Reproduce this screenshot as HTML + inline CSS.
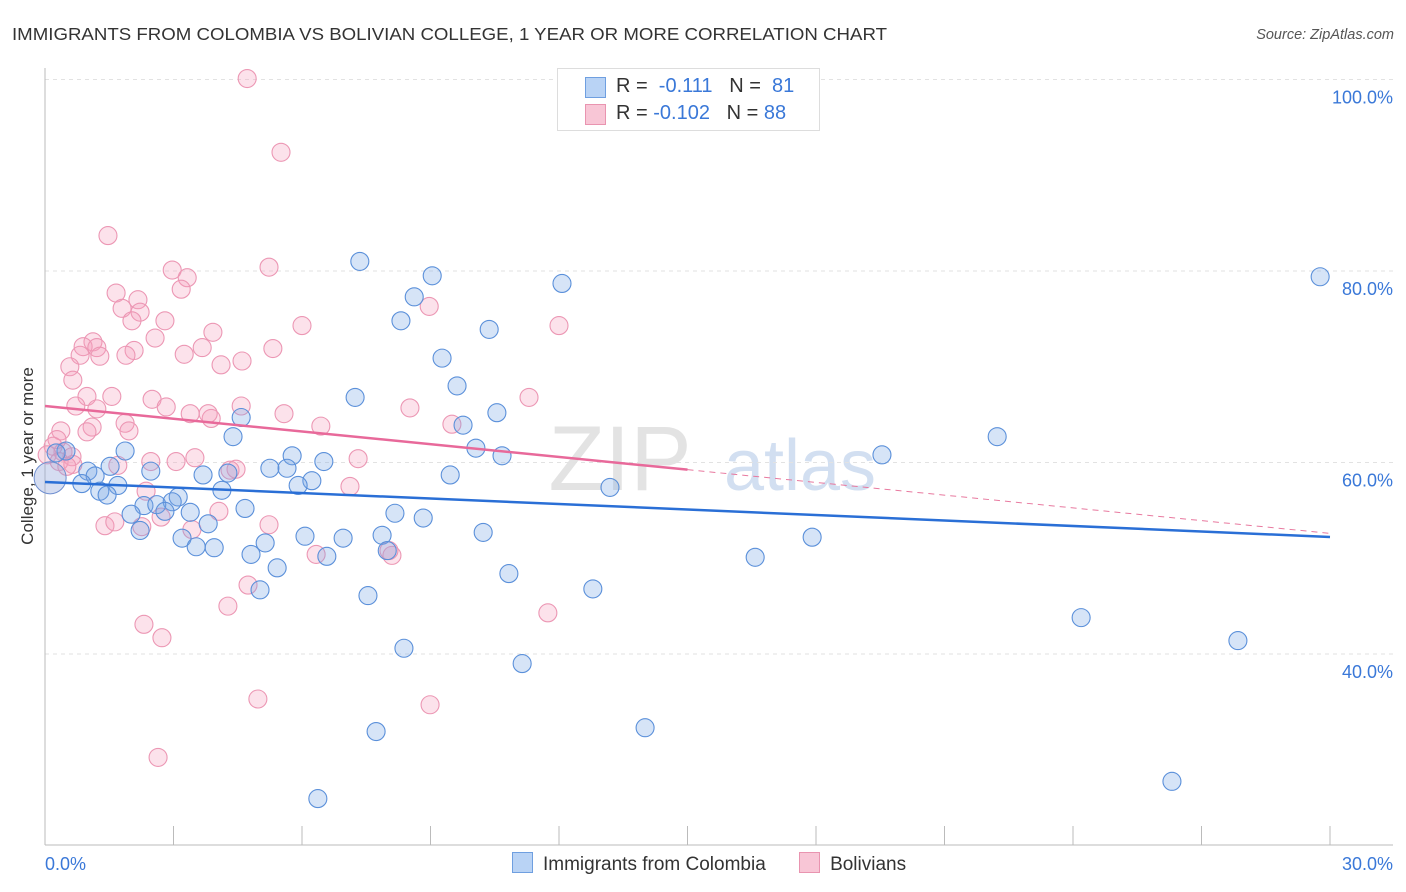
<!DOCTYPE html>
<html><head><meta charset="utf-8"><style>
body{margin:0;background:#fff;font-family:"Liberation Sans",sans-serif;}
#wrap{position:relative;width:1406px;height:892px;overflow:hidden;}
svg text{font-family:"Liberation Sans",sans-serif;}
</style></head><body>
<div id="wrap">
<svg id="chart" width="1406" height="892">
<text x="12" y="40" font-size="17.5" fill="#333" textLength="875" lengthAdjust="spacingAndGlyphs">IMMIGRANTS FROM COLOMBIA VS BOLIVIAN COLLEGE, 1 YEAR OR MORE CORRELATION CHART</text>
<text x="1394" y="39" font-size="14.5" fill="#555" font-style="italic" text-anchor="end">Source: ZipAtlas.com</text>
<text x="620" y="490" font-size="92" fill="#e3e3e3" font-family="Liberation Serif" text-anchor="middle">ZIP</text>
<text x="800" y="490" font-size="72" fill="#d2dff1" text-anchor="middle">atlas</text>
<text transform="translate(33,456) rotate(-90)" font-size="17" fill="#333" text-anchor="middle">College, 1 year or more</text>
<g id="grid"></g><g id="marks"></g>
</svg>
<div style="position:absolute;left:557px;top:68px;width:261px;height:61px;border:1px solid #ddd;background:#fff;font-size:20px;color:#333;">
 <div style="position:absolute;left:27px;top:8px;width:19px;height:19px;background:#b9d3f5;border:1px solid #6f9fe0;"></div>
 <div style="position:absolute;left:58px;top:6px;">R = &nbsp;<span style="color:#3a78d8">-0.111</span>&nbsp;&nbsp;&nbsp;N = &nbsp;<span style="color:#3a78d8">81</span></div>
 <div style="position:absolute;left:27px;top:35px;width:19px;height:19px;background:#f8c6d6;border:1px solid #e994b0;"></div>
 <div style="position:absolute;left:58px;top:33px;">R = <span style="color:#3a78d8">-0.102</span>&nbsp;&nbsp;&nbsp;N = <span style="color:#3a78d8">88</span></div>
</div>
<div style="position:absolute;left:512px;top:852px;font-size:19px;color:#333;white-space:nowrap;">
 <span><span style="display:inline-block;width:19px;height:19px;background:#b9d3f5;border:1px solid #6f9fe0;vertical-align:-3px;margin-right:10px;"></span>Immigrants from Colombia</span>
 <span style="margin-left:28px;"><span style="display:inline-block;width:19px;height:19px;background:#f8c6d6;border:1px solid #e994b0;vertical-align:-3px;margin-right:10px;"></span>Bolivians</span>
</div>
</div>
<script>
const blueX=[29.77,7.35,9.04,12.07,8.62,8.31,10.37,9.27,9.62,7.24,10.55,4.58,9.76,4.39,1.87,10.06,10.67,22.23,19.54,5.77,6.51,5.65,5.25,2.47,1.00,0.49,0.26,1.52,1.17,0.86,1.70,1.28,1.45,9.46,4.27,3.69,6.23,5.91,4.13,3.11,2.97,2.31,2.61,2.01,3.39,4.67,2.80,13.19,8.17,8.83,3.81,3.20,2.22,3.53,3.95,5.14,4.81,6.07,6.96,7.87,7.99,6.58,10.23,17.91,16.58,5.42,5.02,10.83,12.79,7.54,8.38,11.14,24.19,27.85,14.01,7.73,26.31,6.37];
const blueY=[79.4,81.0,79.5,78.7,77.3,74.8,73.9,70.9,68.0,66.8,65.2,64.7,63.9,62.7,61.2,61.5,60.7,62.7,60.8,60.7,60.1,59.4,59.4,59.1,59.1,61.2,61.0,59.6,58.6,57.8,57.6,57.0,56.6,58.7,58.9,58.7,58.1,57.6,57.1,56.4,55.9,55.5,55.6,54.6,54.8,55.2,54.9,57.4,54.7,54.2,53.6,52.1,52.9,51.2,51.1,51.6,50.4,52.3,52.1,52.4,50.8,50.2,52.7,52.2,50.1,49.0,46.7,48.4,46.8,46.1,40.6,39.0,43.8,41.4,32.3,31.9,26.7,24.9];
const pinkX=[4.72,5.51,1.47,2.97,3.32,5.23,3.18,1.66,2.17,1.80,2.22,2.03,2.80,8.97,6.00,12.00,3.92,2.57,1.12,0.89,1.21,2.08,3.67,1.89,1.28,0.82,5.32,3.25,4.60,4.11,0.58,0.65,1.56,2.50,0.98,11.30,8.52,0.72,2.83,1.21,5.58,3.39,3.88,3.81,4.58,1.87,1.10,6.44,9.50,0.37,0.98,1.96,0.28,0.19,0.42,0.63,0.05,3.50,3.06,2.47,1.70,0.33,4.46,4.32,7.31,0.65,7.12,2.36,2.71,4.06,1.40,1.63,3.43,2.26,5.23,6.33,8.10,4.74,4.27,11.74,2.31,2.73,4.97,8.99,2.64,8.03,0.51];
const pinkY=[100.1,92.4,83.7,80.1,79.3,80.4,78.1,77.7,77.0,76.1,75.7,74.8,74.8,76.3,74.3,74.3,73.6,73.0,72.6,72.1,72.0,71.7,72.0,71.2,71.1,71.2,71.9,71.3,70.6,70.2,70.0,68.6,66.9,66.6,66.9,66.8,65.7,65.9,65.8,65.6,65.1,65.1,64.6,65.1,65.9,64.1,63.7,63.8,64.0,63.3,63.2,63.3,62.4,61.7,61.1,60.6,60.8,60.5,60.1,60.1,59.7,60.1,59.3,59.2,60.4,59.8,57.5,57.0,54.3,54.9,53.4,53.8,53.0,53.3,53.5,50.4,50.3,47.2,45.0,44.3,43.1,41.7,35.3,34.7,29.2,50.8,59.6];
const yTicks=[40,60,80,100];
const yTickLabels=["40.0%","60.0%","80.0%","100.0%"];
const xTicks=[0,3,6,9,12,15,18,21,24,27,30];
const blueTrend=[57.96,52.22];
const pinkTrend=[65.9,52.6];
const pinkSolidEnd=15.0;

const NS="http://www.w3.org/2000/svg";
const sx=v=>45+v*1285/30;
const sy=v=>1037-v*9.575;
const grid=document.getElementById('grid'),marks=document.getElementById('marks');
function mk(tag,at,parent){const e=document.createElementNS(NS,tag);for(const k in at)e.setAttribute(k,at[k]);parent.appendChild(e);return e;}
yTicks.forEach((t,i)=>{
 const l=mk('line',{x1:45,x2:1393,y1:sy(t),y2:sy(t),stroke:'#e2e2e2','stroke-dasharray':'4,4'},grid);
 
 
 const tx=mk('text',{x:1393,y:sy(t)+24,'font-size':18,fill:'#3a78d8','text-anchor':'end'},grid);
 tx.textContent=yTickLabels[i];
 
 
});
const ax=mk('line',{x1:45,x2:45,y1:68,y2:845,stroke:'#bbb'},grid);


const bx=mk('line',{x1:45,x2:1393,y1:845,y2:845,stroke:'#bbb'},grid);


xTicks.forEach(t=>{
 const l=mk('line',{x1:sx(t),x2:sx(t),y1:826,y2:845,stroke:'#bbb'},grid);
 
 
});
const xl0=mk('text',{x:45,y:870,'font-size':18,fill:'#3a78d8'},grid);xl0.textContent=xTicks[0].toFixed(1)+'%';


const xl1=mk('text',{x:1393,y:870,'font-size':18,fill:'#3a78d8','text-anchor':'end'},grid);xl1.textContent=xTicks[xTicks.length-1].toFixed(1)+'%';



pinkX.forEach((x,i)=>{
 const c=mk('circle',{cx:sx(x),cy:sy(pinkY[i]),r:9,fill:'rgba(244,160,190,0.3)',stroke:'#ec97b4','stroke-width':1.1},marks);
 
 
});
blueX.forEach((x,i)=>{
 const c=mk('circle',{cx:sx(x),cy:sy(blueY[i]),r:9,fill:'rgba(120,165,230,0.3)',stroke:'#5b90da','stroke-width':1.1},marks);
 
 
});
const big=mk('circle',{cx:sx(0.12),cy:sy(58.4),r:16,fill:'rgba(150,170,220,0.4)',stroke:'#6f8fd0'},marks);


const pAt=x=>pinkTrend[0]+(pinkTrend[1]-pinkTrend[0])*x/30;
const pd=mk('line',{x1:sx(pinkSolidEnd),y1:sy(pAt(pinkSolidEnd)),x2:sx(30),y2:sy(pinkTrend[1]),stroke:'#e8799f','stroke-width':1,'stroke-dasharray':'6,5'},marks);


const ps=mk('line',{x1:sx(0),y1:sy(pinkTrend[0]),x2:sx(pinkSolidEnd),y2:sy(pAt(pinkSolidEnd)),stroke:'#e8699a','stroke-width':2.5},marks);


const bl=mk('line',{x1:sx(0),y1:sy(blueTrend[0]),x2:sx(30),y2:sy(blueTrend[1]),stroke:'#2a6fd6','stroke-width':2.5},marks);


</script>
</body></html>
